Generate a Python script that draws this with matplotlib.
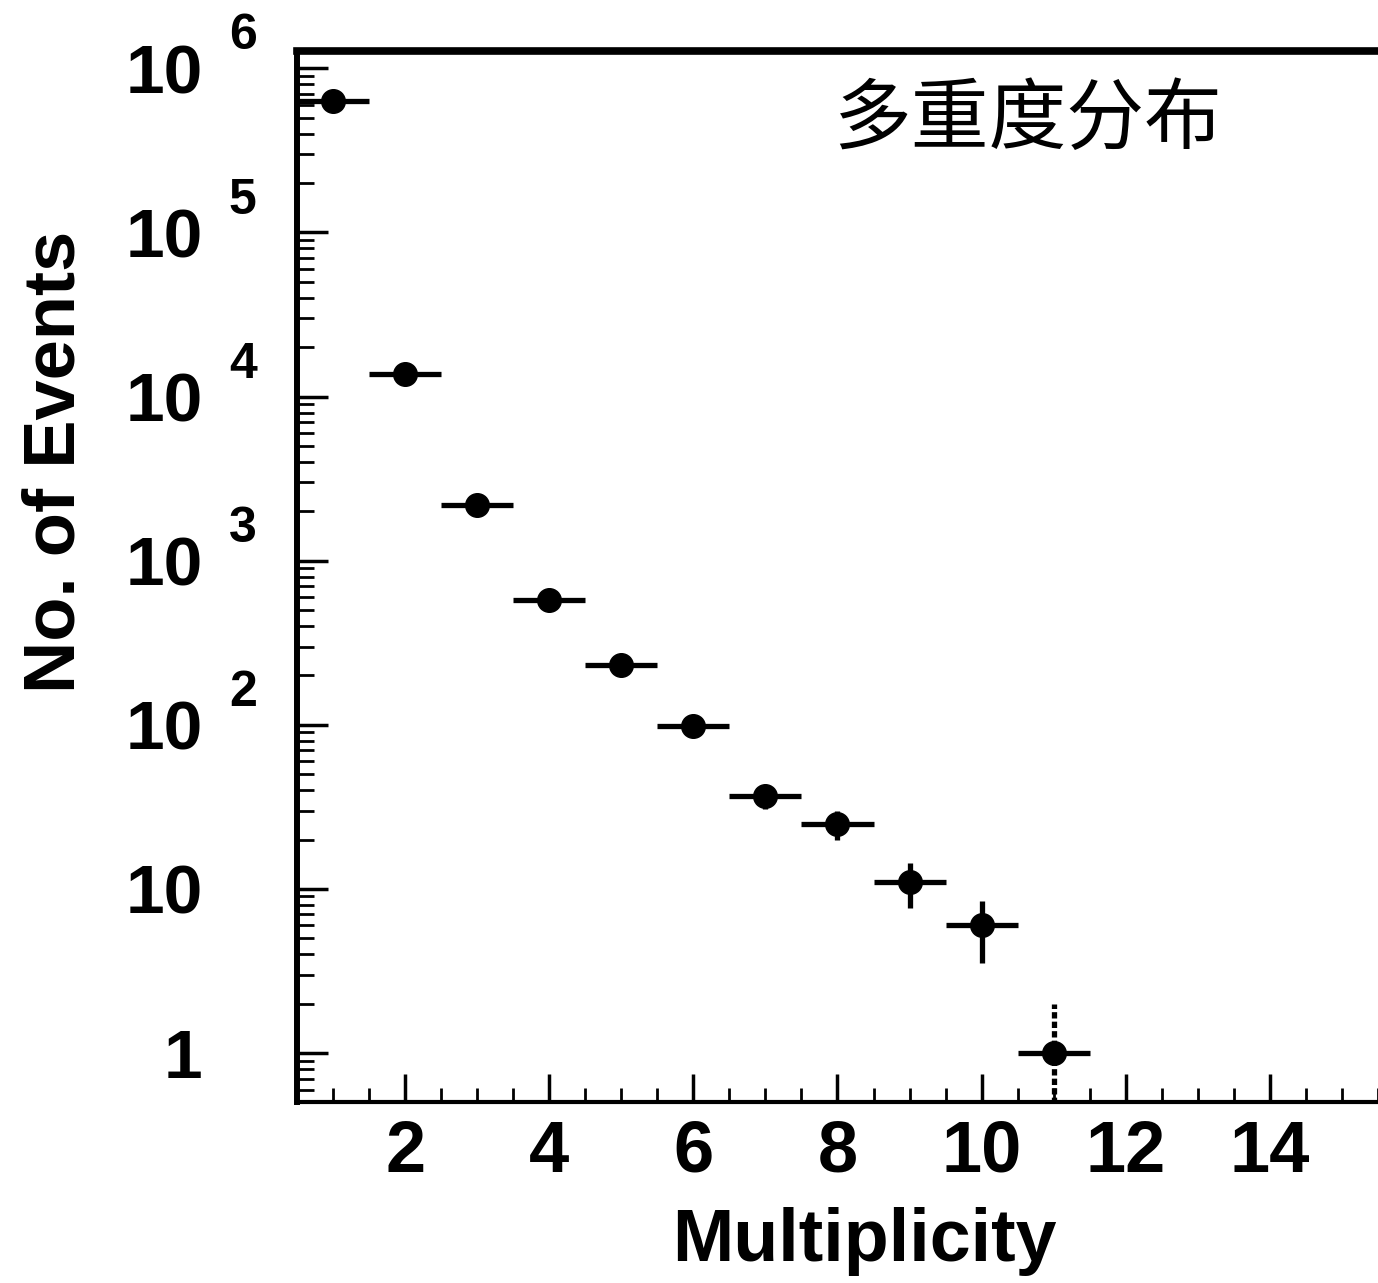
import numpy as np
import matplotlib.pyplot as plt
from matplotlib.ticker import FixedLocator, MultipleLocator, LogLocator, NullFormatter

# data
multiplicity = [1, 2, 3, 4, 5, 6, 7, 8, 9, 10, 11]
events = [637000, 13800, 2200, 575, 231, 98, 37, 25, 11, 6, 1]

x_ticks = [2, 4, 6, 8, 10, 12, 14]
y_decades = [0, 1, 2, 3, 4, 5, 6]
y_tick_labels = ["1", "10", "10", "10", "10", "10", "10"]
exponent_decades = [2, 3, 4, 5, 6]

title_text = "多重度分布"

plt.rcParams['font.family'] = ['Liberation Sans', 'DejaVu Sans']

x = np.array(multiplicity, dtype=float)
y = np.array(events, dtype=float)

# poisson errors, lower bar clipped so it stays positive on log scale
err_up = np.sqrt(y)
err_lo = np.minimum(err_up, y * 0.999)

fig = plt.figure(figsize=(13.78, 12.83), dpi=100)
ax = fig.add_axes([0.2155, 0.141, 0.7845, 0.819])

ax.set_yscale('log')

ax.errorbar(
    x[:-1],
    y[:-1],
    xerr=0.5,
    yerr=[err_lo[:-1], err_up[:-1]],
    fmt='o',
    color='black',
    ms=17,
    elinewidth=3.8,
    capsize=0
)

# last bin drawn with a dotted vertical bar
last = ax.errorbar(
    x[-1:],
    y[-1:],
    xerr=0.5,
    yerr=[err_lo[-1:], err_up[-1:]],
    fmt='o',
    color='black',
    ms=17,
    elinewidth=3.8,
    capsize=0
)
last[2][1].set_linestyle((0, (1.2, 0.6)))

ax.set_xlim(0.5, 15.5)
ax.set_ylim(0.503, 1.27e6)

ax.xaxis.set_major_locator(FixedLocator(x_ticks))
ax.xaxis.set_minor_locator(MultipleLocator(0.5))
ax.set_xticklabels([str(t) for t in x_ticks])

ax.yaxis.set_major_locator(FixedLocator([10.0 ** d for d in y_decades]))
ax.yaxis.set_minor_locator(LogLocator(base=10, subs=np.arange(2, 10)))
ax.yaxis.set_minor_formatter(NullFormatter())
ax.set_yticklabels(y_tick_labels)

ax.tick_params(axis='y', which='major', direction='in', length=22, width=2.5,
               pad=68, labelsize=50)
ax.tick_params(axis='y', which='minor', direction='in', length=12, width=2)
ax.tick_params(axis='x', which='major', direction='in', length=20, width=2.5,
               pad=12, labelsize=52)
ax.tick_params(axis='x', which='minor', direction='in', length=10, width=2)

for lab in ax.get_xticklabels() + ax.get_yticklabels():
    lab.set_fontweight('bold')

for d in exponent_decades:
    ax.annotate(
        str(d),
        xy=(0, 10.0 ** d),
        xycoords=('axes fraction', 'data'),
        xytext=(-39, 23),
        textcoords='offset points',
        ha='center',
        va='center',
        fontsize=36,
        fontweight='bold'
    )

ax.spines['right'].set_visible(False)
ax.spines['top'].set_linewidth(5.5)
ax.spines['left'].set_linewidth(4.3)
ax.spines['bottom'].set_linewidth(3)

ax.set_xlabel("Multiplicity", fontsize=53, fontweight='bold')
ax.xaxis.set_label_coords(0.5245, -0.10)
ax.xaxis.label.set_va('top')

ax.set_ylabel("No. of Events", fontsize=52, fontweight='bold')
ax.yaxis.set_label_coords(-0.192, 0.609)

ax.text(
    0.676, 0.933,
    title_text,
    transform=ax.transAxes,
    ha='center',
    va='center',
    fontsize=56,
    family=['Noto Sans CJK SC', 'DejaVu Sans']
)

fig.savefig("out.png", dpi=100)
